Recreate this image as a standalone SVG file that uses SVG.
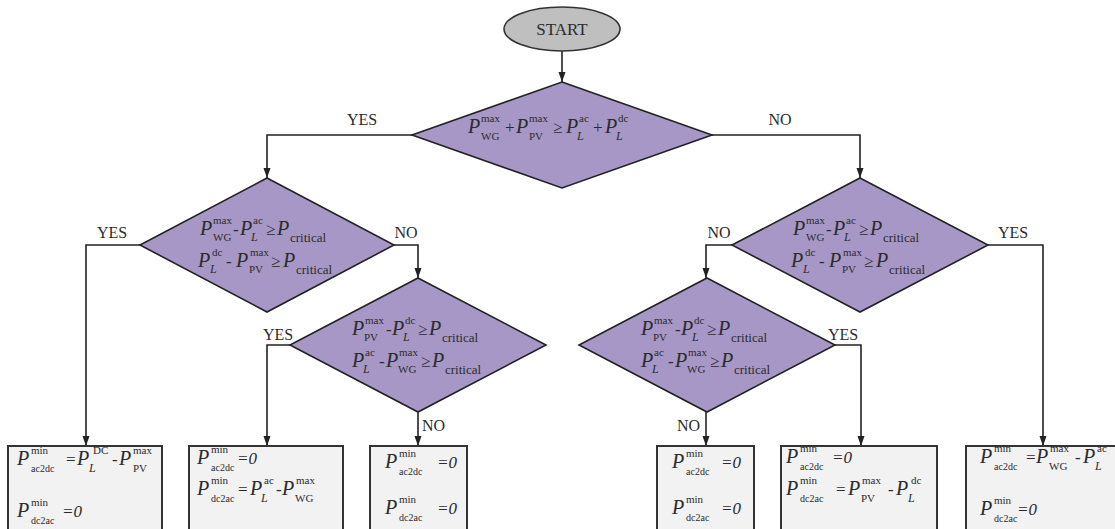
<svg xmlns="http://www.w3.org/2000/svg" width="1115" height="529" viewBox="0 0 1115 529">
<style>
text { font-family: "Liberation Serif", "Times New Roman", serif; fill: #2b2b2b; }
.P { font-style: italic; font-size: 20px; }
.s { font-size: 11px; }
.sb { font-size: 10px; }
.si { font-size: 12px; font-style: italic; }
.cr { font-size: 13px; }
.op { font-size: 17px; }
.eq { font-size: 17px; font-style: italic; }
.lbl { font-size: 16px; }
.dia { fill: #a797c7; stroke: #222; stroke-width: 1.6; }
.box { fill: #f2f2f2; stroke: #333; stroke-width: 2; }
.con { fill: none; stroke: #222; stroke-width: 1.6; marker-end: url(#arr); }
</style>
<defs>
<marker id="arr" viewBox="0 0 10 10" refX="10" refY="5" markerWidth="10" markerHeight="10" markerUnits="userSpaceOnUse" orient="auto">
<path d="M0,1.5 L10,5 L0,8.5 z" fill="#222"/>
</marker>
</defs>

<g id="connectors">
<path class="con" d="M562,51 V82"/>
<path class="con" d="M412,135 H267 V178"/>
<path class="con" d="M712,135 H860 V178"/>
<path class="con" d="M140,245 H86 V446"/>
<path class="con" d="M394,245 H418 V278"/>
<path class="con" d="M290,345 H267 V446"/>
<path class="con" d="M418,412 V446"/>
<path class="con" d="M732,245 H706 V278"/>
<path class="con" d="M988,245 H1043 V446"/>
<path class="con" d="M835,345 H861 V446"/>
<path class="con" d="M706,412 V446"/>
<text class="lbl" x="362" y="125" text-anchor="middle">YES</text>
<text class="lbl" x="780" y="125" text-anchor="middle">NO</text>
<text class="lbl" x="112" y="238" text-anchor="middle">YES</text>
<text class="lbl" x="406" y="238" text-anchor="middle">NO</text>
<text class="lbl" x="278" y="340" text-anchor="middle">YES</text>
<text class="lbl" x="422" y="431">NO</text>
<text class="lbl" x="719" y="238" text-anchor="middle">NO</text>
<text class="lbl" x="1013" y="238" text-anchor="middle">YES</text>
<text class="lbl" x="843" y="340" text-anchor="middle">YES</text>
<text class="lbl" x="700" y="431" text-anchor="end">NO</text>
</g>

<g id="start">
<ellipse cx="562" cy="29" rx="58" ry="22" fill="#bfbfbf" stroke="#333" stroke-width="1.6"/>
<text x="562" y="35" text-anchor="middle" style="font-size:17px">START</text>
</g>

<g id="d0" transform="translate(562,135)">
<polygon class="dia" points="0,-53 150,0 0,53 -150,0"/>
<text class="P" x="-94" y="-2">P</text><text class="s" x="-81" y="-13">max</text><text class="s" x="-81" y="5">WG</text>
<text class="op" x="-57" y="-2">+</text>
<text class="P" x="-46" y="-2">P</text><text class="s" x="-33" y="-13">max</text><text class="s" x="-33" y="5">PV</text>
<text class="op" x="-9" y="-2">≥</text>
<text class="P" x="4" y="-2">P</text><text class="s" x="17" y="-13">ac</text><text class="si" x="15" y="5">L</text>
<text class="op" x="31" y="-2">+</text>
<text class="P" x="43" y="-2">P</text><text class="s" x="56" y="-13">dc</text><text class="si" x="54" y="5">L</text>
</g>

<g id="d1" transform="translate(267,245)">
<polygon class="dia" points="0,-67 127,0 0,67 -127,0"/>
<text class="P" x="-67" y="-10">P</text><text class="s" x="-54" y="-21">max</text><text class="s" x="-54" y="-4">WG</text>
<text class="op" x="-34" y="-10">-</text>
<text class="P" x="-27" y="-10">P</text><text class="s" x="-14" y="-21">ac</text><text class="si" x="-16" y="-4">L</text>
<text class="op" x="-1" y="-10">≥</text>
<text class="P" x="10" y="-10">P</text><text class="cr" x="23" y="-3">critical</text>
<text class="P" x="-69" y="22">P</text><text class="s" x="-55" y="11">dc</text><text class="si" x="-57" y="28">L</text>
<text class="op" x="-41" y="22">-</text>
<text class="P" x="-31" y="22">P</text><text class="s" x="-17" y="11">max</text><text class="s" x="-18" y="28">PV</text>
<text class="op" x="4" y="22">≥</text>
<text class="P" x="16" y="22">P</text><text class="cr" x="29" y="29">critical</text>
</g>

<g id="d2" transform="translate(418,345)">
<polygon class="dia" points="0,-67 128,0 0,67 -128,0"/>
<text class="P" x="-66" y="-10">P</text><text class="s" x="-53" y="-21">max</text><text class="s" x="-54" y="-4">PV</text>
<text class="op" x="-32" y="-10">-</text>
<text class="P" x="-26" y="-10">P</text><text class="s" x="-13" y="-21">dc</text><text class="si" x="-15" y="-4">L</text>
<text class="op" x="0" y="-10">≥</text>
<text class="P" x="11" y="-10">P</text><text class="cr" x="24" y="-3">critical</text>
<text class="P" x="-66" y="22">P</text><text class="s" x="-53" y="11">ac</text><text class="si" x="-55" y="28">L</text>
<text class="op" x="-39" y="22">-</text>
<text class="P" x="-32" y="22">P</text><text class="s" x="-19" y="11">max</text><text class="s" x="-20" y="28">WG</text>
<text class="op" x="3" y="22">≥</text>
<text class="P" x="14" y="22">P</text><text class="cr" x="27" y="29">critical</text>
</g>

<g id="d3" transform="translate(860,245)">
<polygon class="dia" points="0,-67 128,0 0,67 -128,0"/>
<text class="P" x="-67" y="-10">P</text><text class="s" x="-54" y="-21">max</text><text class="s" x="-54" y="-4">WG</text>
<text class="op" x="-34" y="-10">-</text>
<text class="P" x="-27" y="-10">P</text><text class="s" x="-14" y="-21">ac</text><text class="si" x="-16" y="-4">L</text>
<text class="op" x="-1" y="-10">≥</text>
<text class="P" x="10" y="-10">P</text><text class="cr" x="23" y="-3">critical</text>
<text class="P" x="-69" y="22">P</text><text class="s" x="-55" y="11">dc</text><text class="si" x="-57" y="28">L</text>
<text class="op" x="-41" y="22">-</text>
<text class="P" x="-31" y="22">P</text><text class="s" x="-17" y="11">max</text><text class="s" x="-18" y="28">PV</text>
<text class="op" x="4" y="22">≥</text>
<text class="P" x="16" y="22">P</text><text class="cr" x="29" y="29">critical</text>
</g>

<g id="d4" transform="translate(707,345)">
<polygon class="dia" points="0,-67 128,0 0,67 -128,0"/>
<text class="P" x="-66" y="-10">P</text><text class="s" x="-53" y="-21">max</text><text class="s" x="-54" y="-4">PV</text>
<text class="op" x="-32" y="-10">-</text>
<text class="P" x="-26" y="-10">P</text><text class="s" x="-13" y="-21">dc</text><text class="si" x="-15" y="-4">L</text>
<text class="op" x="0" y="-10">≥</text>
<text class="P" x="11" y="-10">P</text><text class="cr" x="24" y="-3">critical</text>
<text class="P" x="-66" y="22">P</text><text class="s" x="-53" y="11">ac</text><text class="si" x="-55" y="28">L</text>
<text class="op" x="-39" y="22">-</text>
<text class="P" x="-32" y="22">P</text><text class="s" x="-19" y="11">max</text><text class="s" x="-20" y="28">WG</text>
<text class="op" x="3" y="22">≥</text>
<text class="P" x="14" y="22">P</text><text class="cr" x="27" y="29">critical</text>
</g>

<g id="b1">
<rect class="box" x="8" y="446" width="154" height="86"/>
<text class="P" x="17" y="465">P</text><text class="s" x="31" y="454">min</text><text class="sb" x="31" y="472">ac2dc</text>
<text class="op" x="66" y="465">=</text>
<text class="P" x="77" y="465">P</text><text class="s" x="93" y="454">DC</text><text class="si" x="89" y="472">L</text>
<text class="op" x="112" y="465">-</text>
<text class="P" x="119" y="465">P</text><text class="s" x="133" y="454">max</text><text class="s" x="133" y="472">PV</text>
<text class="P" x="17" y="517">P</text><text class="s" x="31" y="506">min</text><text class="sb" x="31" y="524">dc2ac</text>
<text class="eq" x="62" y="517">=0</text>
</g>

<g id="b2">
<rect class="box" x="189" y="446" width="154" height="86"/>
<text class="P" x="197" y="464">P</text><text class="s" x="211" y="453">min</text><text class="sb" x="211" y="471">ac2dc</text>
<text class="eq" x="237" y="464">=0</text>
<text class="P" x="197" y="495">P</text><text class="s" x="211" y="484">min</text><text class="sb" x="211" y="502">dc2ac</text>
<text class="op" x="238" y="495">=</text>
<text class="P" x="250" y="495">P</text><text class="s" x="264" y="484">ac</text><text class="si" x="261" y="502">L</text>
<text class="op" x="276" y="495">-</text>
<text class="P" x="282" y="495">P</text><text class="s" x="296" y="484">max</text><text class="s" x="295" y="502">WG</text>
</g>

<g id="b3">
<rect class="box" x="370" y="446" width="97" height="86"/>
<text class="P" x="385" y="468">P</text><text class="s" x="399" y="457">min</text><text class="sb" x="399" y="475">ac2dc</text>
<text class="eq" x="437" y="468">=0</text>
<text class="P" x="385" y="514">P</text><text class="s" x="399" y="503">min</text><text class="sb" x="399" y="521">dc2ac</text>
<text class="eq" x="437" y="514">=0</text>
</g>

<g id="b4">
<rect class="box" x="657" y="446" width="97" height="86"/>
<text class="P" x="672" y="468">P</text><text class="s" x="686" y="457">min</text><text class="sb" x="686" y="475">ac2dc</text>
<text class="eq" x="721" y="468">=0</text>
<text class="P" x="672" y="514">P</text><text class="s" x="686" y="503">min</text><text class="sb" x="686" y="521">dc2ac</text>
<text class="eq" x="721" y="514">=0</text>
</g>

<g id="b5">
<rect class="box" x="781" y="446" width="156" height="86"/>
<text class="P" x="786" y="463">P</text><text class="s" x="800" y="452">min</text><text class="sb" x="800" y="470">ac2dc</text>
<text class="eq" x="832" y="463">=0</text>
<text class="P" x="786" y="495">P</text><text class="s" x="800" y="484">min</text><text class="sb" x="800" y="502">dc2ac</text>
<text class="op" x="836" y="495">=</text>
<text class="P" x="848" y="495">P</text><text class="s" x="862" y="484">max</text><text class="s" x="861" y="502">PV</text>
<text class="op" x="888" y="495">-</text>
<text class="P" x="896" y="495">P</text><text class="s" x="911" y="484">dc</text><text class="si" x="908" y="502">L</text>
</g>

<g id="b6">
<rect class="box" x="966" y="446" width="154" height="86"/>
<text class="P" x="980" y="463">P</text><text class="s" x="994" y="452">min</text><text class="sb" x="994" y="470">ac2dc</text>
<text class="op" x="1026" y="463">=</text>
<text class="P" x="1036" y="463">P</text><text class="s" x="1050" y="452">max</text><text class="s" x="1049" y="470">WG</text>
<text class="op" x="1075" y="463">-</text>
<text class="P" x="1083" y="463">P</text><text class="s" x="1097" y="452">ac</text><text class="si" x="1095" y="470">L</text>
<text class="P" x="980" y="515">P</text><text class="s" x="994" y="504">min</text><text class="sb" x="994" y="522">dc2ac</text>
<text class="eq" x="1017" y="515">=0</text>
</g>
</svg>
